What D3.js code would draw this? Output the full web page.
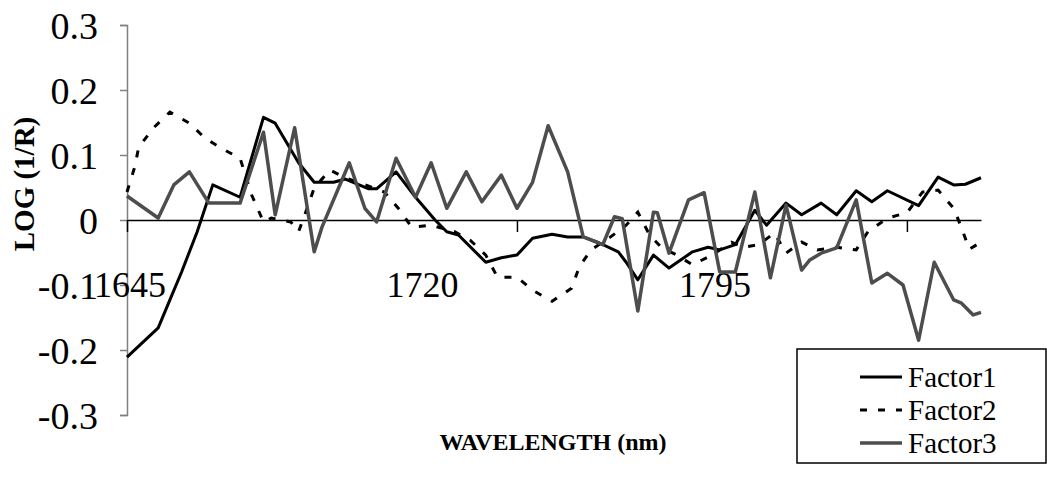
<!DOCTYPE html>
<html>
<head>
<meta charset="utf-8">
<script src="https://cdn.jsdelivr.net/npm/d3@7"></script>
</head>
<body style="margin:0">
<div id="chart"></div>
<script>
// wavelength (nm) and LOG(1/R)
var f1_nm  = [1645,1653,1656,1659,1663,1667,1674,1680,1683,1689,1693,1698,1701,1707,1709,1714,1719,1724,1727,1730,1737,1741,1745,1749,1754,1758,1762,1766,1771,1773,1776,1780,1784,1790,1794,1797,1801,1806,1809,1814,1818,1823,1827,1832,1836,1840,1848,1853,1857,1860,1864];
var f1_val = [-0.211,-0.166,-0.123,-0.080,-0.018,0.054,0.035,0.158,0.149,0.088,0.058,0.058,0.063,0.048,0.048,0.074,0.035,0.000,-0.018,-0.023,-0.065,-0.058,-0.054,-0.028,-0.022,-0.026,-0.026,-0.035,-0.049,-0.065,-0.092,-0.054,-0.074,-0.049,-0.042,-0.046,-0.038,0.015,-0.008,0.026,0.008,0.026,0.008,0.045,0.028,0.045,0.022,0.066,0.054,0.055,0.065];

var f2_nm  = [1645,1647,1648,1652,1656,1661,1665,1669,1674,1677,1680,1682,1687,1689,1691,1693,1697,1701,1707,1711,1715,1718,1723,1729,1733,1737,1740,1745,1749,1754,1759,1761,1764,1769,1773,1776,1779,1782,1786,1790,1795,1800,1803,1807,1811,1814,1818,1822,1827,1832,1835,1840,1845,1849,1853,1857,1859,1861,1864];
var f2_val = [0.043,0.082,0.112,0.143,0.166,0.149,0.126,0.111,0.095,0.038,-0.003,0.003,-0.003,-0.018,0.015,0.049,0.077,0.065,0.052,0.043,0.015,-0.011,-0.008,-0.018,-0.031,-0.054,-0.088,-0.088,-0.108,-0.125,-0.105,-0.072,-0.046,-0.026,-0.008,0.012,-0.023,-0.042,-0.054,-0.069,-0.054,-0.034,-0.042,-0.038,-0.020,-0.051,-0.034,-0.046,-0.042,-0.046,-0.018,0.003,0.011,0.043,0.046,0.018,-0.012,-0.045,-0.034];

var f3_nm  = [1645,1653,1657,1661,1666,1674,1680,1683,1688,1693,1695,1702,1706,1709,1714,1719,1723,1727,1732,1736,1741,1745,1749,1753,1758,1762,1767,1770,1772,1776,1780,1781,1784,1789,1793,1797,1801,1806,1810,1814,1818,1820,1823,1827,1832,1836,1840,1844,1848,1852,1857,1859,1862,1864];
var f3_val = [0.037,0.003,0.054,0.074,0.026,0.026,0.135,0.008,0.142,-0.049,-0.011,0.088,0.018,-0.003,0.095,0.035,0.088,0.018,0.074,0.028,0.069,0.018,0.058,0.145,0.074,-0.026,-0.038,0.005,0.002,-0.140,0.012,0.011,-0.051,0.031,0.042,-0.080,-0.080,0.043,-0.089,0.023,-0.077,-0.062,-0.051,-0.043,0.031,-0.097,-0.082,-0.100,-0.185,-0.065,-0.123,-0.128,-0.146,-0.142];

var series_names = ["Factor1", "Factor2", "Factor3"];
var y_ticks = [0.3, 0.2, 0.1, 0, -0.1, -0.2, -0.3];
var x_labels = [1645, 1720, 1795];
var x_ticks = [1645, 1745, 1845];

var serif = "'Liberation Serif'";

var svg = d3.select("#chart")
    .append("svg")
    .attr("width", 1047)
    .attr("height", 479)

svg.append("rect")
    .attr("width", 1047)
    .attr("height", 479)
    .attr("fill", "#fff")

var x = d3.scaleLinear()
    .domain([1645, 1864])
    .range([127, 981])
var y = d3.scaleLinear()
    .domain([-0.3, 0.3])
    .range([415, 25])

// y axis (grey line, ticks outside)
var yAxis = svg.append("g")
    .attr("transform", "translate(127,0)")
    .call(d3.axisLeft(y).tickValues(y_ticks).tickSize(7).tickFormat(""))
yAxis.selectAll("path, line").attr("stroke", "#808080").attr("stroke-width", 1.5)

svg.selectAll(".ylab")
    .data(y_ticks)
    .enter().append("text")
    .attr("class", "ylab")
    .attr("x", 98)
    .attr("y", d => y(d))
    .attr("dy", "0.36em")
    .attr("text-anchor", "end")
    .style("font-family", serif)
    .style("font-weight", "400")
    .style("font-size", "38px")
    .text(d => String(d))

// x axis crosses at zero
var xAxis = svg.append("g")
    .attr("transform", "translate(0," + y(0) + ")")
    .call(d3.axisBottom(x).tickValues(x_ticks).tickSize(12).tickFormat("").tickSizeOuter(0))
xAxis.selectAll("path, line").attr("stroke", "#000").attr("stroke-width", 1.5)

svg.selectAll(".xlab")
    .data(x_labels)
    .enter().append("text")
    .attr("class", "xlab")
    .attr("x", d => x(d) + 3)
    .attr("y", 297)
    .attr("text-anchor", "middle")
    .style("font-family", serif)
    .style("font-weight", "400")
    .style("font-size", "36px")
    .text(d => String(d))

var line = d3.line()
    .x(d => x(d[0]))
    .y(d => y(d[1]))

var s1 = f1_nm.map((d, i) => [d, f1_val[i]])
var s2 = f2_nm.map((d, i) => [d, f2_val[i]])
var s3 = f3_nm.map((d, i) => [d, f3_val[i]])

var styles = [
    {color: "#000", width: 3, dash: null},
    {color: "#000", width: 3, dash: "7,11"},
    {color: "#4d4d4d", width: 3.5, dash: null}
]

svg.append("path")
    .datum(s1)
    .attr("fill", "none")
    .attr("stroke", styles[0].color)
    .attr("stroke-width", styles[0].width)
    .attr("stroke-linejoin", "round")
    .attr("d", line)
svg.append("path")
    .datum(s2)
    .attr("fill", "none")
    .attr("stroke", styles[1].color)
    .attr("stroke-width", styles[1].width)
    .attr("stroke-dasharray", styles[1].dash)
    .attr("d", line)
svg.append("path")
    .datum(s3)
    .attr("fill", "none")
    .attr("stroke", styles[2].color)
    .attr("stroke-width", styles[2].width)
    .attr("stroke-linejoin", "round")
    .attr("d", line)

// axis titles
svg.append("text")
    .attr("x", 553)
    .attr("y", 450)
    .attr("text-anchor", "middle")
    .style("font-family", serif)
    .style("font-size", "24px")
    .style("font-weight", "700")
    .text("WAVELENGTH (nm)")

svg.append("text")
    .attr("transform", "translate(34,184) rotate(-90)")
    .attr("text-anchor", "middle")
    .style("font-family", serif)
    .style("font-size", "29px")
    .style("font-weight", "700")
    .text("LOG (1/R)")

// legend
var legend = svg.append("g")
legend.append("rect")
    .attr("x", 797)
    .attr("y", 349)
    .attr("width", 249)
    .attr("height", 114)
    .attr("fill", "#fff")
    .attr("stroke", "#000")
    .attr("stroke-width", 1.5)

series_names.forEach(function(name, i) {
    var ly = 377 + i * 33
    legend.append("line")
        .attr("x1", 860)
        .attr("x2", 902)
        .attr("y1", ly)
        .attr("y2", ly)
        .attr("stroke", styles[i].color)
        .attr("stroke-width", styles[i].width)
        .attr("stroke-dasharray", styles[i].dash)
    legend.append("text")
        .attr("x", 908)
        .attr("y", ly)
        .attr("dy", "0.35em")
        .style("font-family", serif)
        .style("font-weight", "400")
        .style("font-size", "29px")
        .text(name)
})
</script>
</body>
</html>
